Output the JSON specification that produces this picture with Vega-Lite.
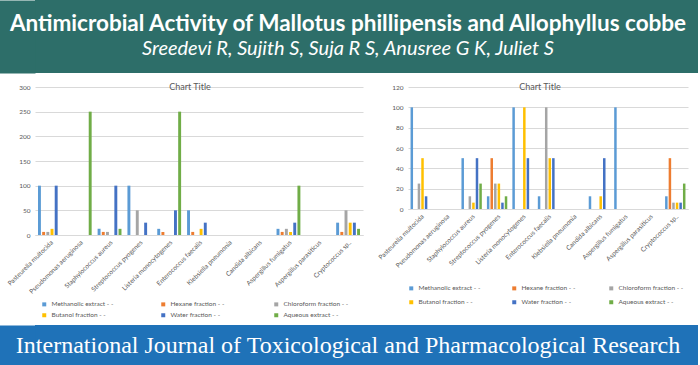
{
  "$schema": "https://vega.github.io/schema/vega-lite/v6.json",
  "padding": 0,
  "background": "white",
  "spacing": 6,
  "config": {
    "font": "Lato",
    "view": {"stroke": null},
    "axis": {"labelColor": "#595959", "labelFontSize": 6.5, "gridColor": "#d9d9d9", "domainColor": "#d9d9d9", "ticks": false, "labelFont": "Lato"},
    "title": {"fontSize": 9, "color": "#595959", "fontWeight": "normal", "font": "Lato"},
    "legend": {"orient": "bottom", "direction": "horizontal", "columns": 3, "symbolType": "square", "symbolSize": 16, "symbolStrokeWidth": 0, "labelFontSize": 6.5, "labelColor": "#595959", "labelFont": "Lato", "rowPadding": 4, "offset": 6}
  },
  "datasets": {
    "mallotus": [
      {"organism": "Pasteurella multocida", "fraction": "Methanolic extract", "value": 100},
      {"organism": "Pasteurella multocida", "fraction": "Hexane  fraction", "value": 6.25},
      {"organism": "Pasteurella multocida", "fraction": "Chloroform fraction", "value": 6.25},
      {"organism": "Pasteurella multocida", "fraction": "Butanol fraction", "value": 12.5},
      {"organism": "Pasteurella multocida", "fraction": "Water fraction", "value": 100},
      {"organism": "Pseudomonas aeruginosa", "fraction": "Aqueous extract", "value": 250},
      {"organism": "Staphylococcus aureus", "fraction": "Methanolic extract", "value": 12.5},
      {"organism": "Staphylococcus aureus", "fraction": "Hexane  fraction", "value": 6.25},
      {"organism": "Staphylococcus aureus", "fraction": "Chloroform fraction", "value": 6.25},
      {"organism": "Staphylococcus aureus", "fraction": "Water fraction", "value": 100},
      {"organism": "Staphylococcus aureus", "fraction": "Aqueous extract", "value": 12.5},
      {"organism": "Streptococcus pyogenes", "fraction": "Methanolic extract", "value": 100},
      {"organism": "Streptococcus pyogenes", "fraction": "Chloroform fraction", "value": 50},
      {"organism": "Streptococcus pyogenes", "fraction": "Water fraction", "value": 25},
      {"organism": "Listeria monocytogenes", "fraction": "Methanolic extract", "value": 12.5},
      {"organism": "Listeria monocytogenes", "fraction": "Hexane  fraction", "value": 6.25},
      {"organism": "Listeria monocytogenes", "fraction": "Water fraction", "value": 50},
      {"organism": "Listeria monocytogenes", "fraction": "Aqueous extract", "value": 250},
      {"organism": "Enterococcus faecalis", "fraction": "Methanolic extract", "value": 50},
      {"organism": "Enterococcus faecalis", "fraction": "Hexane  fraction", "value": 6.25},
      {"organism": "Enterococcus faecalis", "fraction": "Butanol fraction", "value": 12.5},
      {"organism": "Enterococcus faecalis", "fraction": "Water fraction", "value": 25},
      {"organism": "Aspergillus fumigatus", "fraction": "Methanolic extract", "value": 12.5},
      {"organism": "Aspergillus fumigatus", "fraction": "Hexane  fraction", "value": 6.25},
      {"organism": "Aspergillus fumigatus", "fraction": "Chloroform fraction", "value": 12.5},
      {"organism": "Aspergillus fumigatus", "fraction": "Butanol fraction", "value": 6.25},
      {"organism": "Aspergillus fumigatus", "fraction": "Water fraction", "value": 25},
      {"organism": "Aspergillus fumigatus", "fraction": "Aqueous extract", "value": 100},
      {"organism": "Cryptococcus sp..", "fraction": "Methanolic extract", "value": 25},
      {"organism": "Cryptococcus sp..", "fraction": "Hexane  fraction", "value": 6.25},
      {"organism": "Cryptococcus sp..", "fraction": "Chloroform fraction", "value": 50},
      {"organism": "Cryptococcus sp..", "fraction": "Butanol fraction", "value": 25},
      {"organism": "Cryptococcus sp..", "fraction": "Water fraction", "value": 25},
      {"organism": "Cryptococcus sp..", "fraction": "Aqueous extract", "value": 12.5}
    ],
    "allophyllus": [
      {"organism": "Pasteurella multocida", "fraction": "Methanolic extract", "value": 100},
      {"organism": "Pasteurella multocida", "fraction": "Chloroform fraction", "value": 25},
      {"organism": "Pasteurella multocida", "fraction": "Butanol fraction", "value": 50},
      {"organism": "Pasteurella multocida", "fraction": "Water fraction", "value": 12.5},
      {"organism": "Staphylococcus aureus", "fraction": "Methanolic extract", "value": 50},
      {"organism": "Staphylococcus aureus", "fraction": "Chloroform fraction", "value": 12.5},
      {"organism": "Staphylococcus aureus", "fraction": "Butanol fraction", "value": 6.25},
      {"organism": "Staphylococcus aureus", "fraction": "Water fraction", "value": 50},
      {"organism": "Staphylococcus aureus", "fraction": "Aqueous extract", "value": 25},
      {"organism": "Streptococcus pyogenes", "fraction": "Methanolic extract", "value": 12.5},
      {"organism": "Streptococcus pyogenes", "fraction": "Hexane  fraction", "value": 50},
      {"organism": "Streptococcus pyogenes", "fraction": "Chloroform fraction", "value": 25},
      {"organism": "Streptococcus pyogenes", "fraction": "Butanol fraction", "value": 25},
      {"organism": "Streptococcus pyogenes", "fraction": "Water fraction", "value": 6.25},
      {"organism": "Streptococcus pyogenes", "fraction": "Aqueous extract", "value": 12.5},
      {"organism": "Listeria monocytogenes", "fraction": "Methanolic extract", "value": 100},
      {"organism": "Listeria monocytogenes", "fraction": "Butanol fraction", "value": 100},
      {"organism": "Listeria monocytogenes", "fraction": "Water fraction", "value": 50},
      {"organism": "Enterococcus faecalis", "fraction": "Methanolic extract", "value": 12.5},
      {"organism": "Enterococcus faecalis", "fraction": "Chloroform fraction", "value": 100},
      {"organism": "Enterococcus faecalis", "fraction": "Butanol fraction", "value": 50},
      {"organism": "Enterococcus faecalis", "fraction": "Water fraction", "value": 50},
      {"organism": "Candida albicans", "fraction": "Methanolic extract", "value": 12.5},
      {"organism": "Candida albicans", "fraction": "Butanol fraction", "value": 12.5},
      {"organism": "Candida albicans", "fraction": "Water fraction", "value": 50},
      {"organism": "Aspergillus fumigatus", "fraction": "Methanolic extract", "value": 100},
      {"organism": "Cryptococcus sp..", "fraction": "Methanolic extract", "value": 12.5},
      {"organism": "Cryptococcus sp..", "fraction": "Hexane  fraction", "value": 50},
      {"organism": "Cryptococcus sp..", "fraction": "Chloroform fraction", "value": 6.25},
      {"organism": "Cryptococcus sp..", "fraction": "Butanol fraction", "value": 6.25},
      {"organism": "Cryptococcus sp..", "fraction": "Water fraction", "value": 6.25},
      {"organism": "Cryptococcus sp..", "fraction": "Aqueous extract", "value": 25}
    ]
  },
  "vconcat": [
    {
      "spacing": 10,
      "vconcat": [
        {
          "width": 663,
          "height": 73,
          "data": {"values": [
            {"line": "title", "text": "Antimicrobial Activity of Mallotus phillipensis and Allophyllus cobbe"},
            {"line": "authors", "text": "Sreedevi R, Sujith S, Suja R S, Anusree G K, Juliet S"}
          ]},
          "view": {"fill": "#2d6e69", "stroke": null},
          "encoding": {
            "x": {"datum": "centre", "type": "nominal", "scale": {"type": "point", "padding": 0.5}, "axis": null},
            "y": {"field": "line", "type": "ordinal", "scale": {"type": "point", "domain": ["title", "authors"], "padding": 1.02}, "axis": {"orient": "left", "labels": false, "ticks": false, "grid": false, "title": null, "domain": true, "domainColor": "#2d6e69", "domainWidth": 37, "domainCap": "butt", "offset": 18.5}},
            "text": {"field": "text"}
          },
          "layer": [
            {"transform": [{"filter": "datum.line === 'title'"}], "mark": {"type": "text", "color": "white", "font": "Lato", "fontWeight": "bold", "fontSize": 22.5, "baseline": "middle", "dx": -18.5}},
            {"transform": [{"filter": "datum.line === 'authors'"}], "mark": {"type": "text", "color": "white", "font": "Lato", "fontStyle": "italic", "fontSize": 20, "baseline": "middle", "dx": -18.5}}
          ]
        },
        {
          "hconcat": [
            {
              "width": 328,
              "height": 148,
              "title": {"text": "Chart Title", "offset": -8, "dx": -9},
              "data": {"name": "mallotus"},
              "mark": {"type": "bar"},
              "encoding": {
                "x": {"field": "organism", "type": "nominal", "scale": {"domain": ["Pasteurella multocida", "Pseudomonas aeruginosa", "Staphylococcus aureus", "Streptococcus pyogenes", "Listeria monocytogenes", "Enterococcus faecalis", "Klebsiella pneumonia", "Candida albicans", "Aspergillus fumigatus", "Aspergillus parasiticus", "Cryptococcus sp.."], "paddingInner": 0.2, "paddingOuter": 0.1}, "axis": {"labelAngle": -45, "title": null, "labelPadding": 4}},
                "xOffset": {"field": "fraction", "type": "nominal", "scale": {"domain": ["Methanolic extract", "Hexane  fraction", "Chloroform fraction", "Butanol fraction", "Water fraction", "Aqueous extract"], "paddingInner": 0.3}},
                "y": {"field": "value", "type": "quantitative", "scale": {"domain": [0, 300], "nice": false}, "axis": {"values": [0, 50, 100, 150, 200, 250, 300], "title": null, "domain": false, "labelPadding": 5, "minExtent": 35}},
                "color": {"field": "fraction", "type": "nominal", "scale": {"domain": ["Methanolic extract", "Hexane  fraction", "Chloroform fraction", "Butanol fraction", "Water fraction", "Aqueous extract"], "range": ["#5b9bd5", "#ed7d31", "#a5a5a5", "#ffc000", "#4472c4", "#70ad47"]}, "legend": {"title": " ", "titleOrient": "left", "titlePadding": 6, "titleFontSize": 6.5, "columnPadding": 46, "labelExpr": "datum.label + ' - -'"}}
              }
            },
            {
              "width": 280,
              "height": 122,
              "title": {"text": "Chart Title", "offset": -8, "dx": -8},
              "data": {"name": "allophyllus"},
              "mark": {"type": "bar"},
              "encoding": {
                "x": {"field": "organism", "type": "nominal", "scale": {"domain": ["Pasteurella multocida", "Pseudomonas aeruginosa", "Staphylococcus aureus", "Streptococcus pyogenes", "Listeria monocytogenes", "Enterococcus faecalis", "Klebsiella pneumonia", "Candida albicans", "Aspergillus fumigatus", "Aspergillus parasiticus", "Cryptococcus sp.."], "paddingInner": 0.2, "paddingOuter": 0.1}, "axis": {"labelAngle": -45, "title": null, "labelPadding": 4}},
                "xOffset": {"field": "fraction", "type": "nominal", "scale": {"domain": ["Methanolic extract", "Hexane  fraction", "Chloroform fraction", "Butanol fraction", "Water fraction", "Aqueous extract"], "paddingInner": 0.3}},
                "y": {"field": "value", "type": "quantitative", "scale": {"domain": [0, 120], "nice": false}, "axis": {"values": [0, 20, 40, 60, 80, 100, 120], "title": null, "domain": false, "labelPadding": 5}},
                "color": {"field": "fraction", "type": "nominal", "scale": {"domain": ["Methanolic extract", "Hexane  fraction", "Chloroform fraction", "Butanol fraction", "Water fraction", "Aqueous extract"], "range": ["#5b9bd5", "#ed7d31", "#a5a5a5", "#ffc000", "#4472c4", "#70ad47"]}, "legend": {"title": null, "columnPadding": 30, "rowPadding": 7, "offset": 16, "labelExpr": "datum.label + ' - -'"}}
              }
            }
          ],
          "spacing": 14,
          "resolve": {"scale": {"color": "independent", "xOffset": "independent"}, "legend": {"color": "independent"}}
        }
      ]
    },
    {
      "width": 663,
      "height": 41,
      "data": {"values": [{"part": "journal", "text": "International Journal of Toxicological and Pharmacological Research"}]},
      "view": {"fill": "#1f72b8", "stroke": null},
      "mark": {"type": "text", "color": "white", "font": "Liberation Serif", "fontSize": 24, "baseline": "middle", "dx": -18.5},
      "encoding": {
        "x": {"datum": "centre", "type": "nominal", "scale": {"type": "point", "padding": 0.5}, "axis": null},
        "y": {"field": "part", "type": "ordinal", "scale": {"type": "point", "padding": 0.5}, "axis": {"orient": "left", "labels": false, "ticks": false, "grid": false, "title": null, "domain": true, "domainColor": "#1f72b8", "domainWidth": 37, "domainCap": "butt", "offset": 18.5}},
        "text": {"field": "text"}
      }
    }
  ]
}
